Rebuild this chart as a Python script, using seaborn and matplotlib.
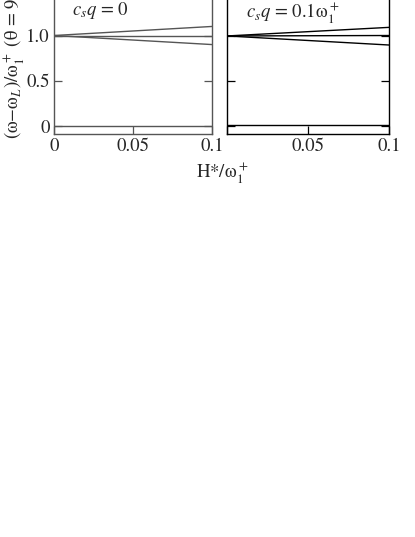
import numpy as np
import pandas as pd
import seaborn as sns
import matplotlib.pyplot as plt

# field values (H*/omega_1^+) at the ends of each branch
h_vals = [0.0, 0.1]

# branches for c_s q = 0
left_upper = [1.0, 1.10]
left_mid = [1.0, 1.0]
left_lower = [1.0, 0.90]
left_zero = [0.0, 0.0]

# branches for c_s q = 0.1 omega_1^+
right_upper = [0.995, 1.09]
right_mid = [0.995, 1.0]
right_lower = [0.995, 0.895]
right_zero = [0.015, 0.015]

x_ticks = [0, 0.05, 0.1]
y_ticks = [0, 0.5, 1.0]

sns.set_style('ticks')
plt.rcParams['font.family'] = ['STIXGeneral', 'DejaVu Serif']
plt.rcParams['mathtext.fontset'] = 'stix'
fs = 13.5

fig = plt.figure(figsize=(4.15, 5.37), dpi=100)
ax1 = fig.add_axes([54/415, 0.7505, 158/415, 0.2845])
ax2 = fig.add_axes([227/415, 0.7505, 162/415, 0.2845])

panels = [
    (ax1, [left_upper, left_mid, left_lower, left_zero], '#555555',
     '$c_s q$ = 0', (0.0114, 1.227), ['0', '0.05', '0.1'], ['0', '0.5', '1.0']),
    (ax2, [right_upper, right_mid, right_lower, right_zero], 'black',
     '$c_s q$ = 0.1ω$_1^+$', (0.0117, 1.19), ['', '0.05', '0.1'], []),
]

for ax, branches, col, note, pos, xl, yl in panels:
    for b in branches:
        df = pd.DataFrame({'H': h_vals, 'w': b})
        sns.lineplot(data=df, x='H', y='w', ax=ax, color=col, lw=1.0)
    ax.set_xlim(0, 0.1)
    ax.set_ylim(-0.088, 1.6)
    ax.set_xticks(x_ticks)
    ax.set_xticklabels(xl)
    ax.set_yticks(y_ticks)
    ax.set_yticklabels(yl if yl else ['', '', ''])
    ax.tick_params(direction='in', length=6, width=0.9, color=col,
                   right=True, top=True, labelsize=fs, pad=3)
    for s in ax.spines.values():
        s.set_color(col)
        s.set_linewidth(1.0)
    ax.set_xlabel('')
    ax.set_ylabel('')
    ax.text(pos[0], pos[1], note, fontsize=fs)

fig.text(222/415, 1 - 179/537, 'H*/ω$_1^+$', ha='center', va='baseline', fontsize=fs)
fig.text(14/415, 1 - 139/537, '(ω−ω$_L$)/ω$_1^+$ (θ = 90°)', rotation=90,
         ha='center', va='bottom', fontsize=fs)

fig.savefig('out.png', dpi=100)
